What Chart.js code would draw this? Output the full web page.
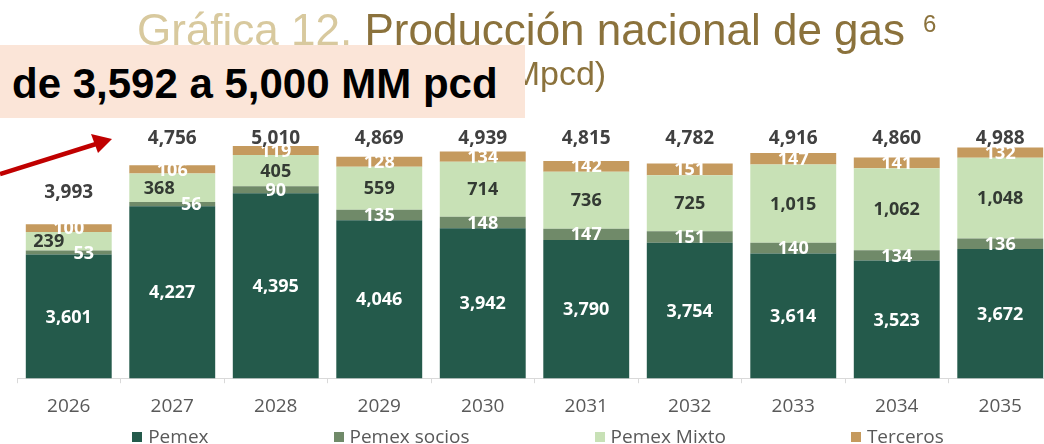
<!DOCTYPE html>
<html lang="es">
<head>
<meta charset="utf-8">
<title>Producción nacional de gas</title>
<script src="https://cdn.jsdelivr.net/npm/chart.js@4.4.1/dist/chart.umd.min.js"></script>
<style>
  html, body { margin: 0; padding: 0; background: #fff; }
  #wrap { position: relative; width: 1044px; height: 444px; overflow: hidden; }
  #chart { position: absolute; left: 0; top: 0; }
  .title {
    position: absolute; left: 137px; top: 5px; white-space: nowrap;
    font-family: "Liberation Sans", Arial, sans-serif; font-size: 44px; color: #8b723c;
  }
  .title .light { color: #d8c99e; }
  .title sup { font-size: 24px; vertical-align: 13px; margin-left: 18px; }
  .subtitle {
    position: absolute; left: 472px; top: 54px; white-space: nowrap;
    font-family: "Liberation Sans", Arial, sans-serif; font-size: 34px; color: #8b723c;
  }
  .note {
    position: absolute; left: 0; top: 45px; width: 525px; height: 73px;
    background: #fbe5d8; box-sizing: border-box; padding: 4px 0 0 12px;
    font-family: "Liberation Sans", Arial, sans-serif; font-weight: bold;
    font-size: 42px; line-height: 69px; color: #000; white-space: nowrap;
  }
  #arrow { position: absolute; left: 0; top: 120px; }
  #legend {
    position: absolute; left: 0; top: 425px; width: 1076px; height: 22px;
    display: flex; justify-content: center; gap: 125px;
    font-family: "Open Sans", sans-serif; font-size: 19px; color: #595959; line-height: 22px;
  }
  #legend span.box { display: inline-block; width: 10px; height: 10px; margin-right: 6px; vertical-align: 1px; }
</style>
</head>
<body>
<div id="wrap">
  <canvas id="chart" width="1060" height="444"></canvas>
  <div class="title"><span class="light">Gráfica 12.</span> Producción nacional de gas<sup>6</sup></div>
  <div class="subtitle">(MMpcd)</div>
  <div class="note">de 3,592 a 5,000 MM pcd</div>
  <svg id="arrow" width="130" height="70">
    <line x1="0" y1="54" x2="96" y2="24" stroke="#c00000" stroke-width="4.5"/>
    <polygon points="112,19 91,14 98,33" fill="#c00000"/>
  </svg>
  <div id="legend"></div>
</div>
<script>
// Producción nacional de gas (MMpcd)

const years = ['2026', '2027', '2028', '2029', '2030', '2031', '2032', '2033', '2034', '2035'];
const pemex = [3601, 4227, 4395, 4046, 3942, 3790, 3754, 3614, 3523, 3672];
const pemexSocios = [53, 56, 90, 135, 148, 147, 151, 140, 134, 136];
const pemexMixto = [239, 368, 405, 559, 714, 736, 725, 1015, 1062, 1048];
const terceros = [100, 106, 119, 128, 134, 142, 151, 147, 141, 132];
const totals = ['3,993', '4,756', '5,010', '4,869', '4,939', '4,815', '4,782', '4,916', '4,860', '4,988'];

// labels that were moved sideways in the original so they don't overlap
const labelShift = { 1: { 0: 15, 1: 19 }, 2: { 0: -20, 1: -13 } };

const segmentLabels = {
  id: 'segmentLabels',
  afterDatasetsDraw(chart) {
    const ctx = chart.ctx;
    const bottom = chart.chartArea.bottom;
    ctx.save();
    ctx.textAlign = 'center';
    ctx.textBaseline = 'middle';
    ctx.font = 'bold 18px "Open Sans", sans-serif';
    chart.data.datasets.forEach((ds, di) => {
      chart.getDatasetMeta(di).data.forEach((bar, i) => {
        const dx = (labelShift[di] && labelShift[di][i]) || 0;
        const base = Math.min(bar.base, bottom);
        ctx.fillStyle = ds.labelColor;
        ctx.fillText(ds.data[i].toLocaleString('en-US'), bar.x + dx, (bar.y + base) / 2 + 1);
      });
    });

    // totals sit on one row, except where the bar is short
    ctx.font = 'bold 19px "Open Sans", sans-serif';
    ctx.fillStyle = '#404040';
    const rowY = chart.scales.y.getPixelForValue(5100);
    const tops = chart.getDatasetMeta(3).data;
    totals.forEach((t, i) => {
      ctx.fillText(t, tops[i].x, Math.max(tops[i].y - 32, rowY));
    });
    ctx.restore();
  }
};

const ctx = document.getElementById('chart').getContext('2d');
const chart = new Chart(ctx, {
  type: 'bar',
  data: {
    labels: years,
    datasets: [
      { label: 'Pemex', data: pemex, backgroundColor: '#245a4b', labelColor: '#ffffff' },
      { label: 'Pemex socios', data: pemexSocios, backgroundColor: '#708a69', labelColor: '#ffffff' },
      { label: 'Pemex Mixto', data: pemexMixto, backgroundColor: '#c8e1b6', labelColor: '#333a33' },
      { label: 'Terceros', data: terceros, backgroundColor: '#c59a5e', labelColor: '#ffffff' }
    ]
  },
  options: {
    responsive: false,
    animation: false,
    devicePixelRatio: 1,
    datasets: { bar: { barPercentage: 0.83, categoryPercentage: 1.0 } },
    layout: { padding: { left: 17, right: 8, top: 108, bottom: 14 } },
    plugins: {
      tooltip: { enabled: false },
      legend: { display: false }
    },
    scales: {
      x: {
        stacked: true,
        grid: { display: true, drawOnChartArea: false, tickLength: 5, color: '#d9d9d9' },
        border: { color: '#d9d9d9' },
        ticks: { color: '#595959', padding: 12, font: { family: '"Open Sans", sans-serif', size: 19 } }
      },
      y: { stacked: true, display: false, min: 2000, max: 5500 }
    }
  },
  plugins: [segmentLabels]
});

// legend as html, items spaced like the original
const legendEl = document.getElementById('legend');
chart.data.datasets.forEach(ds => {
  const item = document.createElement('div');
  item.innerHTML = `<span class="box" style="background:${ds.backgroundColor}"></span>${ds.label}`;
  legendEl.appendChild(item);
});
</script>
</body>
</html>
